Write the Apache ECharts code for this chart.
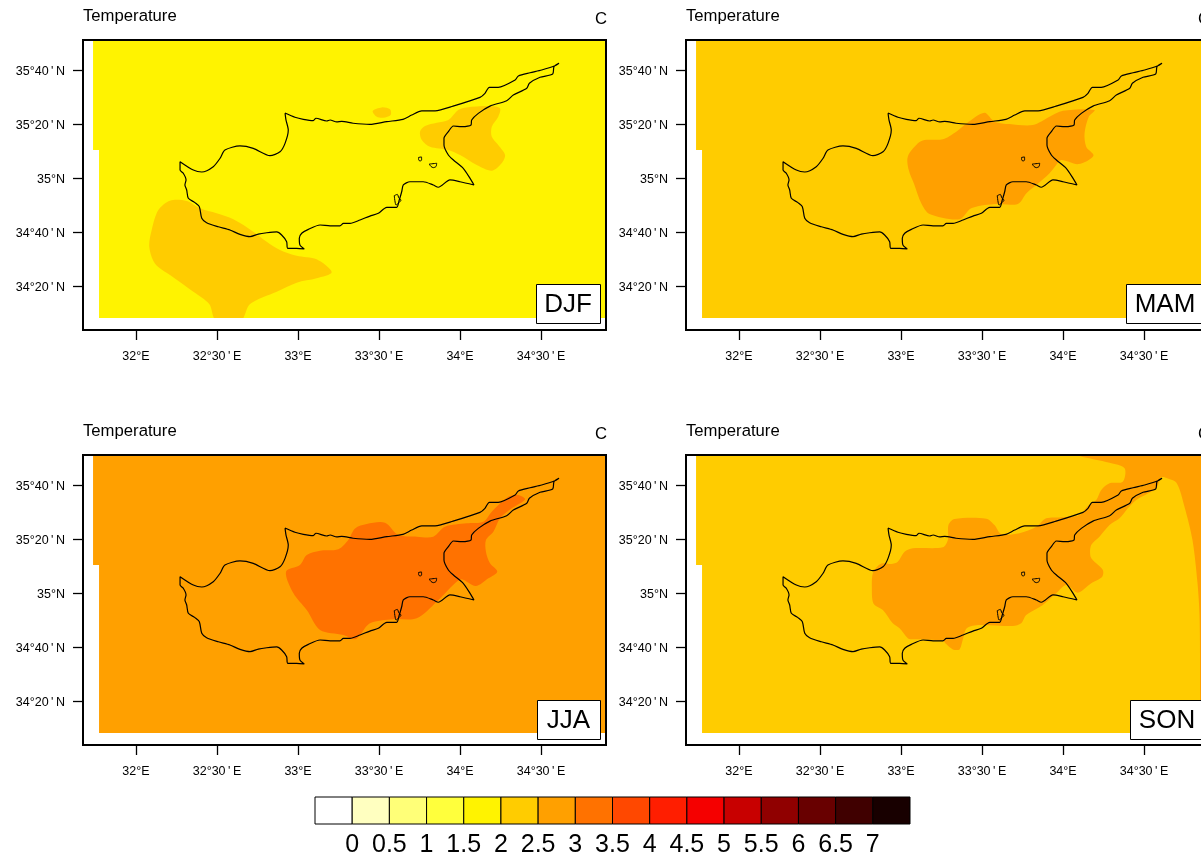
<!DOCTYPE html>
<html>
<head>
<meta charset="utf-8">
<style>html,body{margin:0;padding:0;background:#fff;overflow:hidden}#c{width:1201px;height:855px}</style>
<script src="https://cdn.jsdelivr.net/npm/echarts@6/dist/echarts.min.js"></script>
</head>
<body>
<div id="c"></div>
<script>
// ---------- data (lon, lat in degrees) ----------
const seasons = ['DJF', 'MAM', 'JJA', 'SON'];
const lonTicks = [32, 32.5, 33, 33.5, 34, 34.5];
const lonTickLabels = ['32°E', "32°30\u2009'\u2009E", '33°E', "33°30\u2009'\u2009E", '34°E', "34°30\u2009'\u2009E"];
const latTicks = [34 + 1/3, 34 + 2/3, 35, 35 + 1/3, 35 + 2/3];
const latTickLabels = ["34°20\u2009'\u2009N", "34°40\u2009'\u2009N", '35°N', "35°20\u2009'\u2009N", "35°40\u2009'\u2009N"];
const lonRange = [31.673, 34.901];
const latRange = [34.0617, 35.852];

const levelTicks = [0, 0.5, 1, 1.5, 2, 2.5, 3, 3.5, 4, 4.5, 5, 5.5, 6, 6.5, 7];
const levelColors = ['#ffffff', '#ffffc0', '#ffff78', '#ffff3c', '#fff300', '#ffcc00', '#ffa000', '#ff7200',
  '#ff4800', '#ff1e00', '#f50000', '#c80000', '#900000', '#680000', '#400000', '#180000'];

// domain of the model grid
const domainOutline = [[31.735, 35.852], [34.901, 35.852], [34.901, 34.136], [31.772, 34.136], [31.772, 35.173], [31.735, 35.173]];

const coast = [[32.920,35.401],[32.981,35.375],[33.033,35.362],[33.094,35.354],[33.111,35.369],[33.177,35.352],[33.198,35.358],[33.239,35.346],[33.270,35.350],[33.340,35.338],[33.444,35.331],[33.548,35.348],[33.648,35.362],[33.702,35.389],[33.764,35.414],[33.846,35.415],[33.957,35.444],[34.123,35.498],[34.154,35.523],[34.181,35.560],[34.236,35.560],[34.340,35.605],[34.360,35.630],[34.432,35.650],[34.504,35.667],[34.586,35.693],[34.611,35.708],[34.580,35.687],[34.572,35.642],[34.494,35.622],[34.428,35.585],[34.412,35.554],[34.329,35.512],[34.288,35.477],[34.185,35.444],[34.113,35.399],[34.072,35.358],[34.068,35.327],[34.010,35.317],[33.959,35.321],[33.928,35.286],[33.901,35.245],[33.901,35.204],[33.928,35.142],[33.959,35.111],[34.020,35.060],[34.062,34.998],[34.086,34.957],[34.000,34.977],[33.938,34.988],[33.866,34.943],[33.835,34.957],[33.773,34.977],[33.691,34.977],[33.650,34.957],[33.640,34.915],[33.625,34.864],[33.609,34.819],[33.548,34.819],[33.496,34.782],[33.444,34.765],[33.383,34.741],[33.321,34.720],[33.280,34.720],[33.259,34.704],[33.198,34.704],[33.136,34.710],[33.064,34.683],[33.023,34.659],[33.008,34.628],[33.012,34.586],[33.039,34.562],[32.992,34.566],[32.936,34.566],[32.930,34.607],[32.899,34.648],[32.869,34.667],[32.807,34.662],[32.755,34.654],[32.704,34.638],[32.642,34.652],[32.580,34.679],[32.508,34.699],[32.436,34.724],[32.406,34.751],[32.391,34.823],[32.364,34.848],[32.323,34.875],[32.313,34.926],[32.302,34.957],[32.309,34.988],[32.292,35.029],[32.272,35.049],[32.272,35.101],[32.354,35.049],[32.406,35.037],[32.477,35.070],[32.519,35.122],[32.549,35.173],[32.642,35.198],[32.724,35.183],[32.827,35.138],[32.889,35.162],[32.920,35.214],[32.940,35.296],[32.926,35.358],[32.920,35.401]];
const lakeA = [[33.744,35.127],[33.762,35.130],[33.763,35.111],[33.753,35.105],[33.745,35.111],[33.744,35.127]];
const lakeB = [[33.81,35.086],[33.856,35.091],[33.852,35.071],[33.835,35.064],[33.821,35.071],[33.81,35.086]];
const lakeC = [[33.594,34.891],[33.613,34.899],[33.623,34.875],[33.636,34.864],[33.619,34.844],[33.605,34.833],[33.594,34.891]];

// 2–2.5 band patches in DJF
const djfSouthWest = [[32.21,34.86],[32.313,34.858],[32.395,34.813],[32.498,34.782],[32.601,34.745],[32.724,34.669],[32.807,34.607],[32.889,34.556],[32.992,34.52],[33.115,34.498],[33.208,34.418],[33.115,34.381],[32.992,34.354],[32.869,34.298],[32.704,34.222],[32.648,34.12],[32.494,34.12],[32.452,34.222],[32.354,34.298],[32.21,34.401],[32.117,34.473],[32.082,34.576],[32.097,34.679],[32.138,34.802]];
const djfEast = [[33.753,35.286],[33.784,35.321],[33.856,35.341],[33.928,35.358],[33.989,35.42],[34.041,35.436],[34.185,35.444],[34.247,35.43],[34.236,35.378],[34.196,35.317],[34.196,35.255],[34.236,35.204],[34.278,35.142],[34.257,35.091],[34.196,35.045],[34.103,35.08],[34.0,35.142],[33.928,35.173],[33.815,35.193],[33.764,35.235]];
const djfNorth = [[33.461,35.414],[33.517,35.436],[33.568,35.424],[33.572,35.389],[33.527,35.372],[33.486,35.378]];

// 2.5–3 band patch in MAM
const mamCentre = [[33.042,35.132],[33.104,35.214],[33.145,35.235],[33.258,35.239],[33.341,35.286],[33.406,35.338],[33.515,35.403],[33.577,35.348],[33.670,35.333],[33.814,35.327],[33.917,35.378],[33.999,35.415],[34.194,35.42],[34.159,35.378],[34.133,35.276],[34.143,35.193],[34.188,35.138],[34.096,35.086],[33.989,35.111],[33.958,35.08],[33.917,35.029],[33.835,34.957],[33.773,34.905],[33.721,34.84],[33.567,34.838],[33.433,34.813],[33.361,34.745],[33.176,34.778],[33.125,34.844],[33.083,34.957],[33.048,35.049]];

// 3–3.5 band patch in JJA
const jjaCentre = [[32.926,35.132],[33.012,35.173],[33.054,35.235],[33.136,35.261],[33.249,35.27],[33.31,35.327],[33.352,35.399],[33.424,35.426],[33.537,35.434],[33.619,35.358],[33.733,35.348],[33.835,35.348],[33.907,35.409],[34.041,35.43],[34.144,35.44],[34.196,35.502],[34.298,35.594],[34.36,35.605],[34.401,35.578],[34.319,35.523],[34.247,35.461],[34.206,35.378],[34.16,35.327],[34.16,35.255],[34.185,35.183],[34.23,35.132],[34.175,35.091],[34.097,35.043],[34.01,35.085],[33.969,35.06],[33.856,34.946],[33.733,34.844],[33.588,34.838],[33.444,34.813],[33.383,34.741],[33.352,34.714],[33.28,34.741],[33.136,34.772],[33.054,34.895],[32.971,35.0]];

// 2.5–3 band patch in SON
const sonCentre = [[32.888,35.183],[32.94,35.179],[32.98,35.193],[33.022,35.255],[33.073,35.276],[33.258,35.282],[33.289,35.327],[33.293,35.42],[33.33,35.457],[33.526,35.459],[33.577,35.42],[33.619,35.364],[33.731,35.369],[33.835,35.409],[33.896,35.461],[33.999,35.467],[34.102,35.481],[34.153,35.537],[34.205,35.574],[34.236,35.636],[34.287,35.677],[34.369,35.687],[34.38,35.77],[34.287,35.804],[34.102,35.846],[34.09,35.86],[34.901,35.9],[34.95,34.136],[34.846,34.136],[34.846,34.358],[34.843,34.852],[34.83,35.062],[34.799,35.327],[34.75,35.531],[34.701,35.679],[34.639,35.71],[34.606,35.714],[34.575,35.646],[34.452,35.574],[34.4,35.523],[34.349,35.461],[34.287,35.42],[34.225,35.348],[34.174,35.296],[34.17,35.224],[34.205,35.183],[34.246,35.142],[34.242,35.101],[34.174,35.06],[34.091,35.002],[34.02,35.049],[33.958,34.998],[33.875,34.926],[33.773,34.864],[33.742,34.813],[33.69,34.796],[33.485,34.802],[33.406,34.782],[33.381,34.71],[33.361,34.652],[33.32,34.652],[33.279,34.685],[33.258,34.706],[33.063,34.714],[33.042,34.72],[32.991,34.782],[32.949,34.813],[32.888,34.895],[32.83,34.936],[32.82,35.039],[32.826,35.122],[32.857,35.167]];

const panelBase = ['#fff300', '#ffcc00', '#ffa000', '#ffcc00'];
const panelPatchColor = ['#ffcc00', '#ffa000', '#ff7200', '#ffa000'];
const panelPatches = [[djfSouthWest, djfEast, djfNorth], [mamCentre], [jjaCentre], [sonCentre]];

// ---------- layout ----------
const frames = [
  { left: 83, top: 40, box: [536, 284, 64, 39] },
  { left: 686, top: 40, box: [1126, 284, 78, 39] },
  { left: 83, top: 455, box: [537, 700, 63, 39] },
  { left: 686, top: 455, box: [1130, 700, 74, 39] }
];
const W = 523, H = 290;
const FONT = '"Liberation Sans", Arial, sans-serif';

const grid = [], xAxis = [], yAxis = [], series = [], title = [], graphic = [];

function polygonSeries(i, polys, color, z, smooth) {
  series.push({
    type: 'custom', xAxisIndex: i, yAxisIndex: i, z: z, silent: true, clip: false,
    coordinateSystem: 'cartesian2d',
    encode: { x: 0, y: 1 },
    data: polys.map((p, k) => [p[0][0], p[0][1], k]),
    renderItem: function (params, api) {
      const pts = polys[api.value(2)].map(q => api.coord(q));
      const el = { type: 'polygon', shape: { points: pts, smooth: smooth }, style: { fill: color, stroke: null } };
      if (smooth) {
        // contour patches stop at the edge of the model domain
        el.clipPath = { type: 'polygon', shape: { points: domainOutline.map(q => api.coord(q)) } };
      }
      return el;
    }
  });
}
function lineSeries(i, pts, width) {
  series.push({
    type: 'line', xAxisIndex: i, yAxisIndex: i, z: 6, silent: true, data: pts, symbol: 'none', clip: true,
    smooth: 0.25, lineStyle: { color: '#000', width: width }, animation: false
  });
}

frames.forEach((f, i) => {
  grid.push({ left: f.left, top: f.top, width: W, height: H, show: false, outerBoundsMode: 'none', containLabel: false });
  xAxis.push({
    type: 'value', gridIndex: i, min: lonRange[0], max: lonRange[1], splitLine: { show: false },
    axisLine: { show: false },
    axisTick: { show: true, customValues: lonTicks, length: 10, lineStyle: { color: '#000', width: 1.3 } },
    axisLabel: { show: true, customValues: lonTicks, margin: 20, color: '#000', fontFamily: FONT, fontSize: 12.5,
      formatter: v => lonTickLabels[lonTicks.findIndex(t => Math.abs(t - v) < 1e-6)] }
  });
  yAxis.push({
    type: 'value', gridIndex: i, min: latRange[0], max: latRange[1], splitLine: { show: false },
    axisLine: { show: false },
    axisTick: { show: true, customValues: latTicks, length: 10, lineStyle: { color: '#000', width: 1.3 } },
    axisLabel: { show: true, customValues: latTicks, margin: 18, color: '#000', fontFamily: FONT, fontSize: 12.5, verticalAlign: 'top', lineHeight: 4,
      formatter: v => latTickLabels[latTicks.findIndex(t => Math.abs(t - v) < 1e-6)] }
  });
  polygonSeries(i, [domainOutline], panelBase[i], 2, 0);
  polygonSeries(i, panelPatches[i], panelPatchColor[i], 3, 0.3);
  lineSeries(i, coast, 1.2);
  lineSeries(i, lakeA, 1);
  lineSeries(i, lakeB, 1);
  lineSeries(i, lakeC, 1);
  // frame on top of the fill
  series.push({
    type: 'custom', xAxisIndex: i, yAxisIndex: i, z: 7, silent: true, clip: false,
    data: [[lonRange[0], latRange[1], lonRange[1], latRange[0]]],
    encode: { x: [0, 2], y: [1, 3] },
    renderItem: function (params, api) {
      const a = api.coord([api.value(0), api.value(1)]), b = api.coord([api.value(2), api.value(3)]);
      return { type: 'rect', shape: { x: a[0], y: a[1], width: b[0] - a[0], height: b[1] - a[1] },
        style: { fill: null, stroke: '#000', lineWidth: 2 } };
    }
  });
  title.push({ text: 'Temperature', left: f.left, top: f.top - 32, padding: 0, textStyle: { fontFamily: FONT, fontSize: 16.7, fontWeight: 'normal', color: '#000' } });
  title.push({ text: 'C', left: f.left + W - 11, top: f.top - 29, padding: 0, textStyle: { fontFamily: FONT, fontSize: 16.7, fontWeight: 'normal', color: '#000' } });
  const b = f.box;
  graphic.push({ type: 'rect', z: 20, shape: { x: b[0] + 0.5, y: b[1] + 0.5, width: b[2], height: b[3] }, style: { fill: '#fff', stroke: '#000', lineWidth: 1 } });
  graphic.push({ type: 'text', z: 21, x: b[0] + b[2] / 2, y: b[1] + b[3] / 2 + 1, style: { text: seasons[i], fontFamily: FONT, fontSize: 26, fill: '#000', textAlign: 'center', textVerticalAlign: 'middle' } });
});

// ---------- colour bar ----------
const barIndex = frames.length;
grid.push({ left: 315, top: 797, width: 595, height: 27, show: false, outerBoundsMode: 'none' });
xAxis.push({
  type: 'value', gridIndex: barIndex, min: -0.5, max: 7.5, splitLine: { show: false }, axisLine: { show: false }, axisTick: { show: false },
  axisLabel: { show: true, customValues: levelTicks, margin: 9, color: '#000', fontSize: 25, fontFamily: FONT, formatter: v => String(v) }
});
yAxis.push({ type: 'value', gridIndex: barIndex, min: 0, max: 1, show: false });
series.push({
  type: 'custom', xAxisIndex: barIndex, yAxisIndex: barIndex, z: 5, silent: true, clip: false,
  data: levelColors.map((c, k) => [k === 0 ? -0.5 : levelTicks[k - 1], k < levelTicks.length ? levelTicks[k] : 7.5, k]),
  encode: { x: [0, 1] },
  renderItem: function (params, api) {
    const a = api.coord([api.value(0), 1]), b = api.coord([api.value(1), 0]);
    return { type: 'rect', shape: { x: a[0], y: a[1], width: b[0] - a[0], height: b[1] - a[1] },
      style: { fill: levelColors[api.value(2)], stroke: '#000', lineWidth: 1 } };
  }
});

const chart = echarts.init(document.getElementById('c'), null, { renderer: 'canvas', width: 1201, height: 855 });
chart.setOption({ animation: false, backgroundColor: '#fff', title, grid, xAxis, yAxis, series, graphic });
</script>
</body>
</html>
